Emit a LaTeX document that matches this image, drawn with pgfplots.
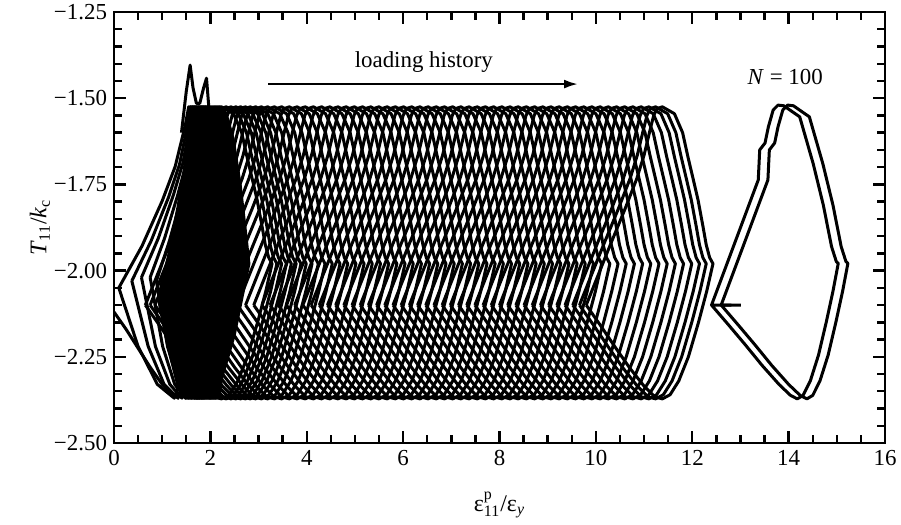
\documentclass[border=0pt]{standalone}
\usepackage{fontspec}
\setmainfont{Liberation Serif}
\usepackage{pgfplots}
\pgfplotsset{compat=1.18}
\usepackage{pgfplotstable}
\usetikzlibrary{arrows.meta}

% one steady hysteresis loop, measured relative to its left tip
\pgfplotstableread{
x y
0.00 -2.100
0.25 -2.012
0.50 -1.925
0.80 -1.823
1.05 -1.733
1.20 -1.665
1.32 -1.595
1.40 -1.550
1.47 -1.530
1.58 -1.525
1.83 -1.545
2.00 -1.600
2.11 -1.670
2.22 -1.735
2.32 -1.795
2.42 -1.870
2.49 -1.925
2.56 -1.962
2.63 -1.980
2.50 -2.060
2.33 -2.150
2.12 -2.250
1.92 -2.320
1.74 -2.360
1.58 -2.372
1.42 -2.366
1.20 -2.335
0.90 -2.282
0.60 -2.222
0.30 -2.160
0.00 -2.100
}\loopshape

% a narrow early-cycle loop, measured relative to its top
\pgfplotstableread{
x y
-0.66 -2.080
-0.44 -1.952
-0.25 -1.814
-0.12 -1.708
-0.03 -1.581
0.00 -1.525
0.12 -1.543
0.27 -1.616
0.42 -1.753
0.53 -1.889
0.60 -1.980
0.29 -2.190
-0.09 -2.370
-0.26 -2.330
-0.46 -2.220
-0.66 -2.080
}\loopnarrow

% a very narrow first-cycle loop, measured relative to its top
\pgfplotstableread{
x y
-0.30 -2.100
-0.20 -1.950
-0.10 -1.800
-0.04 -1.660
0.00 -1.540
0.08 -1.600
0.16 -1.720
0.24 -1.860
0.30 -1.980
0.15 -2.180
-0.02 -2.370
-0.15 -2.250
-0.30 -2.100
}\loopinner

% loop N = 100 (relative to its left tip)
\pgfplotstableread{
x y
0.41 -2.100
0.00 -2.100
0.50 -1.913
0.97 -1.737
1.00 -1.650
1.11 -1.630
1.18 -1.583
1.28 -1.534
1.38 -1.520
1.50 -1.522
1.83 -1.554
2.11 -1.690
2.32 -1.810
2.49 -1.930
2.59 -1.974
2.63 -1.979
2.52 -2.060
2.38 -2.150
2.22 -2.245
2.05 -2.320
1.90 -2.362
1.78 -2.372
1.64 -2.362
1.40 -2.330
1.05 -2.275
0.70 -2.215
0.35 -2.157
0.00 -2.100
}\loopfinal

% overshoot of the first cycles
\pgfplotstableread{
x y
1.40 -1.600
1.50 -1.480
1.58 -1.404
1.64 -1.470
1.71 -1.515
1.78 -1.515
1.86 -1.470
1.92 -1.442
1.97 -1.530
}\firstcycles

\pgfplotsset{loopline/.style={black, line width=1.5bp, line join=round, mark=none}}

\begin{document}
\begin{tikzpicture}
\begin{axis}[
  scale only axis, width=385.5bp, height=215.5bp,
  xmin=0, xmax=16, ymin=-2.5, ymax=-1.25,
  xtick={0,2,...,16},
  xticklabels={0,2,4,6,8,10,12,14,16},
  ytick={-2.5,-2.25,-2,-1.75,-1.5,-1.25},
  yticklabels={−2.50,−2.25,−2.00,−1.75,−1.50,−1.25},
  minor x tick num=3, minor y tick num=4,
  tick align=inside,
  major tick length=6bp, minor tick length=4bp,
  every tick/.style={black, line width=1.2pt},
  axis line style={line width=1.4pt},
  tick label style={font=\fontsize{11.5}{13}\selectfont},
  xlabel={ε$^{\mbox{\fontsize{8}{9}\selectfont p}}_{\mbox{\fontsize{8}{9}\selectfont 11}}$/ε$_{\mbox{\fontsize{8}{9}\selectfont\itshape y}}$},
  ylabel={\textit{T}\textsubscript{11}/\textit{k}\textsubscript{c}},
  label style={font=\fontsize{12}{14}\selectfont},
  xlabel style={at={(axis description cs:0.5,-0.144)}, anchor=center},
  ylabel style={at={(axis description cs:-0.096,0.5)}, anchor=center},
  clip=true,
]
% first cycles (narrow loops)
\addplot[loopline] coordinates {(0.10,-2.05) (0.58,-1.929) (1.00,-1.798) (1.27,-1.698) (1.48,-1.578) (1.55,-1.525)
 (1.65,-1.543) (1.775,-1.616) (1.90,-1.753) (1.99,-1.889) (2.05,-1.98) (1.69,-2.19) (1.25,-2.37) (0.90,-2.33) (0.50,-2.22) (0.10,-2.05)};
\addplot[loopline] coordinates {(0.37,-2.03) (0.77,-1.914) (1.13,-1.788) (1.36,-1.692) (1.53,-1.576) (1.59,-1.525)
 (1.69,-1.543) (1.83,-1.616) (1.96,-1.753) (2.06,-1.889) (2.12,-1.98) (1.76,-2.19) (1.33,-2.37) (1.04,-2.33) (0.71,-2.22) (0.37,-2.03)};
\addplot[loopline] coordinates {(0.57,-2.02) (0.92,-1.906) (1.23,-1.782) (1.43,-1.688) (1.58,-1.575) (1.63,-1.525)
 (1.74,-1.543) (1.88,-1.616) (2.02,-1.753) (2.11,-1.889) (2.18,-1.98) (1.83,-2.19) (1.41,-2.37) (1.16,-2.33) (0.86,-2.22) (0.57,-2.02)};
\addplot[loopline] coordinates {(0.75,-2.02) (1.05,-1.906) (1.32,-1.782) (1.50,-1.688) (1.62,-1.575) (1.67,-1.525)
 (1.78,-1.543) (1.93,-1.616) (2.07,-1.753) (2.17,-1.889) (2.24,-1.98) (1.90,-2.19) (1.48,-2.37) (1.26,-2.33) (1.01,-2.22) (0.75,-2.02)};
\addplot[loopline] coordinates {(0.88,-2.03) (1.15,-1.914) (1.40,-1.788) (1.55,-1.692) (1.67,-1.576) (1.71,-1.525)
 (1.83,-1.543) (1.97,-1.616) (2.12,-1.753) (2.22,-1.889) (2.29,-1.98) (1.96,-2.19) (1.55,-2.37) (1.35,-2.33) (1.11,-2.22) (0.88,-2.03)};
\addplot[loopline] coordinates {(0.98,-2.04) (1.23,-1.922) (1.46,-1.793) (1.60,-1.695) (1.71,-1.577) (1.75,-1.525)
 (1.87,-1.543) (2.02,-1.616) (2.16,-1.753) (2.27,-1.889) (2.34,-1.98) (2.01,-2.19) (1.61,-2.37) (1.42,-2.33) (1.20,-2.22) (0.98,-2.04)};
\addplot[loopline] coordinates {(1.06,-2.05) (1.30,-1.929) (1.51,-1.798) (1.65,-1.698) (1.75,-1.578) (1.79,-1.525)
 (1.91,-1.543) (2.06,-1.616) (2.21,-1.753) (2.32,-1.889) (2.39,-1.98) (2.07,-2.19) (1.67,-2.37) (1.49,-2.33) (1.27,-2.22) (1.06,-2.05)};
\addplot[loopline] coordinates {(1.13,-2.06) (1.36,-1.937) (1.56,-1.803) (1.70,-1.702) (1.80,-1.579) (1.83,-1.525)
 (1.95,-1.543) (2.10,-1.616) (2.25,-1.753) (2.36,-1.889) (2.43,-1.98) (2.11,-2.19) (1.72,-2.37) (1.54,-2.33) (1.34,-2.22) (1.13,-2.06)};
\addplot[loopline] coordinates {(1.19,-2.07) (1.41,-1.945) (1.61,-1.808) (1.74,-1.705) (1.84,-1.580) (1.87,-1.525)
 (1.99,-1.543) (2.14,-1.616) (2.29,-1.753) (2.40,-1.889) (2.47,-1.98) (2.16,-2.19) (1.77,-2.37) (1.60,-2.33) (1.39,-2.22) (1.19,-2.07)};
\addplot[loopline] coordinates {(1.25,-2.08) (1.47,-1.952) (1.66,-1.814) (1.79,-1.708) (1.88,-1.581) (1.91,-1.525)
 (2.03,-1.543) (2.18,-1.616) (2.33,-1.753) (2.44,-1.889) (2.51,-1.98) (2.20,-2.19) (1.82,-2.37) (1.65,-2.33) (1.45,-2.22) (1.25,-2.08)};
% densely packed early cycles (top position of each)
\pgfplotsinvokeforeach{1.58,1.60,1.62,1.64,1.66,1.68,1.70,1.72,1.74,1.76,1.78,1.80,1.82,1.84,1.86,1.88,1.90,1.92,1.94,
 1.96,1.98,2.00,2.02,2.04,2.06,2.08,2.10,2.12,2.14,2.16,2.18,2.20}{
  \addplot[loopline] table[x expr=\thisrow{x}+#1, y=y]{\loopnarrow};
}
\pgfplotsinvokeforeach{1.700,1.725,1.750,1.775,1.800,1.825,1.850,1.875,1.900,1.925,1.950,1.975,2.000,2.025,2.050,2.075,2.100,2.125,2.150,2.175,2.200}{
  \addplot[loopline] table[x expr=\thisrow{x}+#1, y=y]{\loopinner};
}
% initial loading branch
\addplot[loopline] coordinates {(0,-2.12) (0.25,-2.17) (0.50,-2.225) (0.75,-2.28) (1.00,-2.33) (1.20,-2.36) (1.35,-2.37)};
\addplot[loopline] table[x=x, y=y]{\firstcycles};
% subsequent cycles: the steady loop at the left tip of each cycle
\pgfplotsinvokeforeach{0.65,0.75,0.85,0.95,1.05,1.15,1.25,1.36,1.48,1.61,1.75,1.90,2.06,2.22,2.39,
 2.56,2.73,2.90,3.07,3.24,3.41,3.58,3.75,3.92,4.09,4.26,4.43,4.60,4.77,4.94,5.11,5.28,5.45,5.62,5.79,
 5.96,6.13,6.30,6.47,6.64,6.81,6.98,7.15,7.32,7.49,7.66,7.83,8.00,8.17,8.34,8.51,8.68,8.85,9.02,9.19,
 9.36,9.52,9.66,9.80}{
  \addplot[loopline] table[x expr=\thisrow{x}+#1, y=y]{\loopshape};
}
% cycles 99 and 100
\pgfplotsinvokeforeach{12.40,12.60}{
  \addplot[loopline] table[x expr=\thisrow{x}+#1, y=y]{\loopfinal};
}
\draw[line width=1.2pt, -{Latex[length=7bp,width=4.5bp]}] (axis cs:3.2,-1.459) -- (axis cs:9.63,-1.459);
\node[font=\fontsize{11.5}{13}\selectfont] at (axis cs:6.43,-1.395) {loading history};
\node[font=\fontsize{11.5}{13}\selectfont] at (axis cs:13.93,-1.438) {\textit{N} = 100};
\end{axis}
\pgfresetboundingbox
\path[use as bounding box] ([shift={(-57bp,-41bp)}]current axis.south west) rectangle ([shift={(8bp,6bp)}]current axis.north east);
\end{tikzpicture}
\end{document}
